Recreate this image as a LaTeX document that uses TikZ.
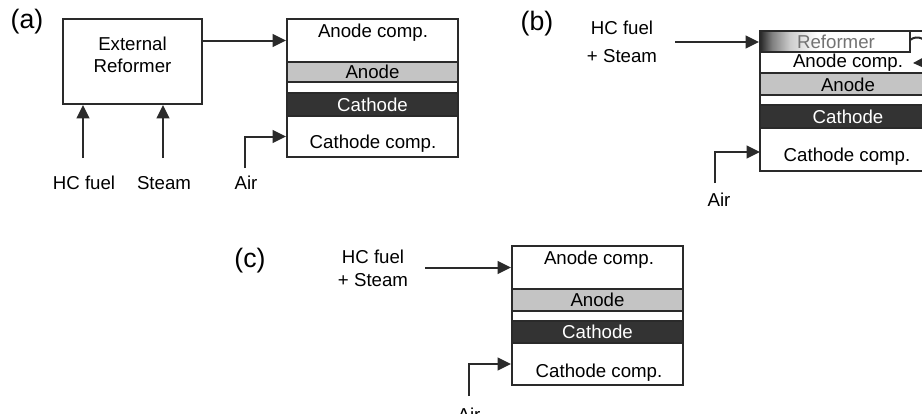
\documentclass[tikz,border=0pt]{standalone}
\usepackage{fontspec}
\setmainfont{Liberation Sans}
\usetikzlibrary{arrows.meta,fit}
\definecolor{ln}{HTML}{2A2A2A}
\definecolor{anodeg}{HTML}{C4C4C4}
\definecolor{cathg}{HTML}{333333}
\pgfdeclarehorizontalshading{refsh}{100bp}{color(0bp)=(black!90); color(25bp)=(black!85); color(29bp)=(black!50); color(35bp)=(black!20); color(44bp)=(white); color(100bp)=(white)}
\begin{document}
\begin{tikzpicture}[x=0.75pt,y=-0.75pt,
  txt/.style={font=\fontsize{14}{17}\selectfont, text=black, inner sep=0pt, align=center},
  panel/.style={font=\fontsize{20}{24}\selectfont, inner sep=0pt},
  layer/.style={draw=ln, line width=1.5pt, inner sep=0pt, fit={#1}},
  arr/.style={draw=ln, line width=1.5pt, -{Triangle[length=10pt,width=9.5pt]}}]
\useasboundingbox (0,0) rectangle (922,414);
\clip (0,0) rectangle (922,414);
\fill[white] (0,0) rectangle (922,414);

% ---------------- (a) ----------------
\node[panel] (la) at (27,22) {(a)};
\node[layer={(63,19) (202,104)}, txt, font=\fontsize{14}{17}\selectfont] (aRef) {External\\Reformer};
\node[layer={(287,19) (458,62)}] (aAC) {};
\node[layer={(287,62) (458,82)}, fill=anodeg] (aAn) {};
\node[layer={(287,82) (458,93)}] (aGap) {};
\node[layer={(287,93) (458,116)}, fill=cathg] (aCa) {};
\node[layer={(287,116) (458,157)}] (aCC) {};
\node[txt] (aACt) at (373,33) {Anode comp.};
\node[txt] (aAnt) at (aAn.center) {Anode};
\node[txt, text=white] (aCat) at (aCa.center) {Cathode};
\node[txt] (aCCt) at (373,144) {Cathode comp.};
\node[txt] (aHC) at (84,183) {HC fuel};
\node[txt] (aSt) at (164,183) {Steam};
\node[txt] (aAir) at (246,183) {Air};
\coordinate (aHCs) at (83,158);
\coordinate (aSts) at (163,158);
\coordinate (aAirs) at (245,168);
\draw[arr] (aAC.west -| aRef.east) -- (aAC.west);
\draw[arr] (aHCs) -- (aHCs |- aRef.south);
\draw[arr] (aSts) -- (aSts |- aRef.south);
\draw[arr] (aAirs) |- (aCC.west);

% ---------------- (b) ----------------
\node[panel] (lb) at (537,24) {(b)};
\node[layer={(760,31) (932,73)}] (bAC) {};
\shade[shading=refsh] (760,31) rectangle (910,52);
\node[layer={(760,31) (910,52)}] (bRef) {};
\node[layer={(760,73) (932,95)}, fill=anodeg] (bAn) {};
\node[layer={(760,95) (932,105)}] (bGap) {};
\node[layer={(760,105) (932,128)}, fill=cathg] (bCa) {};
\node[layer={(760,128) (932,171)}] (bCC) {};
\node[txt, text=black!55] (bReft) at (836,42) {Reformer};
\node[txt] (bACt) at (848,63) {Anode comp.};
\node[txt] (bAnt) at (848,85) {Anode};
\node[txt, text=white] (bCat) at (bCa.center -| 848,0) {Cathode};
\node[txt] (bCCt) at (847,157) {Cathode comp.};
\node[txt, font=\fontsize{14}{21}\selectfont] (bHC) at (622,42) {HC fuel\\+ Steam};
\node[txt] (bAir) at (719,200) {Air};
\coordinate (bHCs) at (675,42);
\coordinate (bAirs) at (715,183);
\coordinate (bAirIn) at (760,152);
\coordinate (bLoopEnd) at (913,63);
\draw[arr] (bHCs) -- (bHCs -| bRef.west);
\draw[arr] (bAirs) |- (bAirIn);
\draw[arr] (910,40) .. controls (926,28) and (942,62) .. (bLoopEnd);

% ---------------- (c) ----------------
\node[panel] (lc) at (250,261) {(c)};
\node[layer={(512,246) (683,289)}] (cAC) {};
\node[layer={(512,289) (683,311)}, fill=anodeg] (cAn) {};
\node[layer={(512,311) (683,321)}] (cGap) {};
\node[layer={(512,321) (683,343)}, fill=cathg] (cCa) {};
\node[layer={(512,343) (683,385)}] (cCC) {};
\node[txt] (cACt) at (599,260) {Anode comp.};
\node[txt] (cAnt) at (cAn.center) {Anode};
\node[txt, text=white] (cCat) at (cCa.center) {Cathode};
\node[txt] (cCCt) at (599,373) {Cathode comp.};
\node[txt, font=\fontsize{14}{17}\selectfont] (cHC) at (373,268) {HC fuel\\+ Steam};
\node[txt, anchor=base] (cAir) at (469,421) {Air};
\coordinate (cHCs) at (425,266);
\coordinate (cAirs) at (469,396);
\draw[arr] (cAC.west -| cHCs) -- (cAC.west);
\draw[arr] (cAirs) |- (cCC.west);
\end{tikzpicture}
\end{document}
